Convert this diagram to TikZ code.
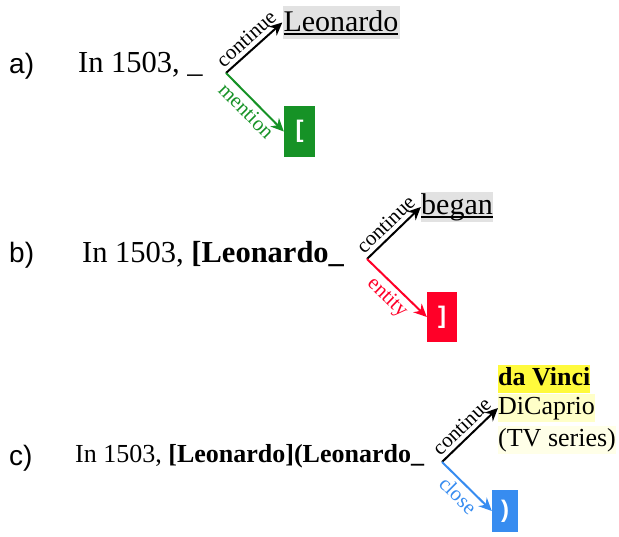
\documentclass[tikz,border=0pt]{standalone}
\usepackage{fontspec}
\setmainfont{Liberation Serif}
\newfontfamily\labfont{Liberation Sans}
\usetikzlibrary{arrows.meta}
\definecolor{mgreen}{RGB}{22,146,38}
\definecolor{mred}{RGB}{255,0,40}
\definecolor{mblue}{RGB}{55,140,240}
\definecolor{mgray}{RGB}{226,226,226}
\definecolor{ydark}{RGB}{255,250,60}
\definecolor{ymid}{RGB}{255,255,200}
\definecolor{ylight}{RGB}{255,255,232}
\newcommand\thickul[1]{\setbox0\hbox{#1}\rlap{\rule[-3.5pt]{\wd0}{1.8pt}}\box0}
\begin{document}
\begin{tikzpicture}[x=1pt,y=-1pt,
  sent/.style={font=\fontsize{30.5}{34}\selectfont, inner sep=0pt, anchor=base west},
  sentc/.style={font=\fontsize{26}{30}\selectfont, inner sep=0pt, anchor=base west},
  plab/.style={font=\labfont\fontsize{28}{32}\selectfont, inner sep=0pt, anchor=base west},
  arr/.style={-{Stealth[length=13pt,width=12pt]}, line width=2pt},
  elab/.style={font=\fontsize{21}{23}\selectfont, sloped, midway, inner sep=4pt},
  wordbox/.style={fill=mgray, inner sep=0pt, font=\fontsize{30}{34}\selectfont},
  tokbox/.style={inner sep=0pt, text=white, font=\labfont\bfseries\fontsize{24}{24}\selectfont},
  candbox/.style={inner sep=0pt, anchor=west, minimum height=28pt, text height=19pt, text depth=6pt, font=\fontsize{26}{30}\selectfont}
]
\useasboundingbox (0,0) rectangle (619,537);
% panel a
\node[plab] (la) at (9,74) {a)};
\node[sent] (sa) at (78,73) {In 1503, \_};
\coordinate (ja) at (226,73);
\node[wordbox, minimum width=117pt, minimum height=33pt] (leo) at (341,22.5) {\thickul{Leonardo}};
\node[tokbox, fill=mgreen, minimum width=31pt, minimum height=51pt] (open) at (299.5,131.5) {\raisebox{-2pt}{[}};
\draw[arr] (ja) -- node[elab, above] {continue} (leo.west);
\draw[arr, mgreen] (ja) -- node[elab, below] {mention} (open.west);
% panel b
\node[plab] (lb) at (9,263) {b)};
\node[sent] (sb) at (82,263) {In 1503, \textbf{[Leonardo\_}};
\coordinate (jb) at (367,259);
\node[wordbox, minimum width=72pt, minimum height=30pt] (began) at (457,207) {\thickul{began}};
\node[tokbox, fill=mred, minimum width=30pt, minimum height=50pt] (closeb) at (442,317) {\raisebox{-2pt}{]}};
\draw[arr] (jb) -- node[elab, above] {continue} (began.west);
\draw[arr, mred] (jb) -- node[elab, below] {entity} (closeb.west);
% panel c
\node[plab] (lc) at (9,465) {c)};
\node[sentc] (sc) at (75,463) {In 1503, \textbf{[Leonardo](Leonardo\_}};
\coordinate (jc) at (442,462);
\node[candbox, fill=ydark] (c1) at (498,379.5) {\textbf{da Vinci}};
\node[candbox, fill=ymid] (c2) at (498,408) {DiCaprio};
\node[candbox, fill=ylight] (c3) at (498,440) {(TV series)};
\node[tokbox, fill=mblue, minimum width=26pt, minimum height=42pt] (closec) at (505,511) {\raisebox{-2pt}{)}};
\draw[arr] (jc) -- node[elab, above] {continue} (c2.west);
\draw[arr, mblue] (jc) -- node[elab, below] {close} (closec.west);
\end{tikzpicture}
\end{document}
